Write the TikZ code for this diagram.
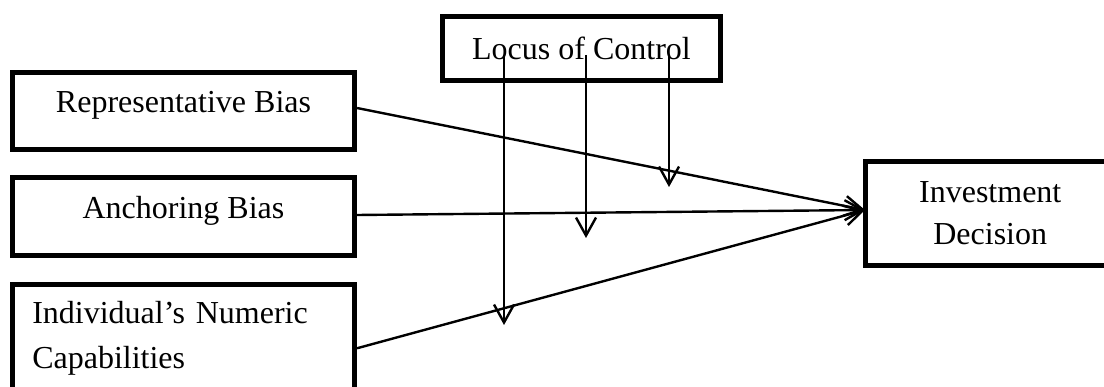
\documentclass[tikz,border=0pt]{standalone}
\usepackage{fontspec}
\setmainfont{Liberation Serif}
\usetikzlibrary{arrows.meta, positioning}

\tikzset{
  caja/.style={draw, rectangle, line width=4.7pt, inner sep=0pt},
  flecha/.style={line width=2.4pt, -{Straight Barb[length=18pt, width=20pt]}}
}

\begin{document}
\begin{tikzpicture}[x=1pt, y=-1pt, font=\fontsize{32}{45}\selectfont]
		\useasboundingbox (0,0) rectangle (1104,387);
		% Variables independientes
		\node[caja, minimum width=342.5pt, minimum height=77.5pt, text height=22pt, text depth=18pt] (rep) at (183.5,111) {Representative Bias};
		\node[caja, minimum width=342.5pt, minimum height=78.5pt, text height=22pt, text depth=18pt] (anc) at (183.5,216.5) {Anchoring Bias};
		\node[caja, minimum width=342.5pt, minimum height=108pt, inner xsep=20pt, text width=302.5pt, align=left] (ind) at (183.5,338.25) {Individual's Numeric\\Capabilities};
		% Moderadora
		\node[caja, minimum width=278.5pt, minimum height=64.5pt] (loc) at (581.5,48.5) {Locus of Control};
		% Variable dependiente
		\node[caja, minimum width=250pt, minimum height=104.5pt, align=center, font=\fontsize{32}{42}\selectfont] (inv) at (990.25,213.5) {Investment\\Decision};
		% Puntos de las flechas
		\coordinate (hub) at (865,210);
		\coordinate (m1) at (504,55);
		\coordinate (m2) at (586,55);
		\coordinate (m3) at (669,55);
		\coordinate (f1) at (504,325);
		\coordinate (f2) at (586,238);
		\coordinate (f3) at (669,187);
		% Relaciones directas
		\draw[flecha] ([yshift=3pt]rep.east) -- (hub);
		\draw[flecha] ([yshift=1.5pt]anc.east) -- (hub);
		\draw[flecha] ([yshift=-10pt]ind.east) -- (hub);
		% Efecto moderador
		\draw[flecha] (m1) -- (f1);
		\draw[flecha] (m2) -- (f2);
		\draw[flecha] (m3) -- (f3);
	\end{tikzpicture}
\end{document}
